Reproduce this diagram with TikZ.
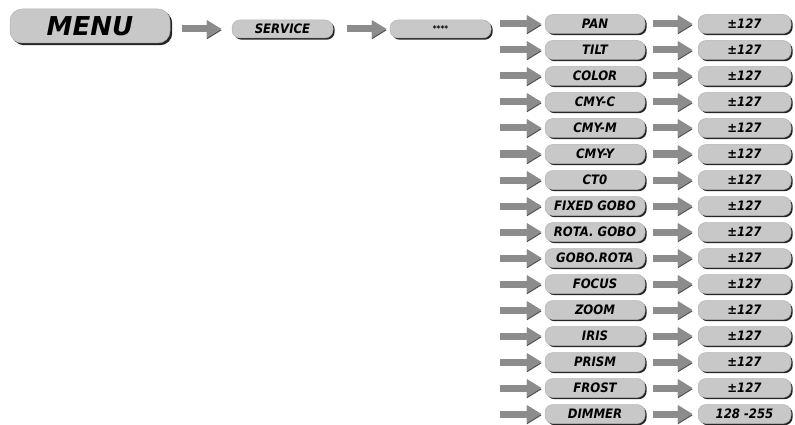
\documentclass[tikz,border=0pt]{standalone}
\usepackage{fontspec}
\setmainfont{DejaVu Sans}
\newfontfamily\condfont{DejaVu Sans Condensed}
\usetikzlibrary{arrows.meta,shadows}
\definecolor{boxgray}{HTML}{C8C8C8}
\definecolor{boxedge}{HTML}{B4B4B4}
\definecolor{arrgray}{HTML}{8C8C8C}
\definecolor{arrdark}{HTML}{505050}
\definecolor{shadowc}{HTML}{262626}
\tikzset{
  box/.style={rounded corners=8pt, fill=boxgray, draw=boxedge, line width=0.5pt,
    inner sep=0pt, minimum height=18pt,
    font=\condfont\bfseries\itshape\fontsize{13}{13}\selectfont,
    drop shadow={shadow xshift=1.7pt, shadow yshift=-1.7pt, fill=shadowc, opacity=1}},
  colbox/.style={box, minimum width=100pt, minimum height=19pt},
  valbox/.style={box, minimum width=93pt, minimum height=19pt},
  menubox/.style={box, rounded corners=12pt, minimum width=160pt, minimum height=34pt,
    font=\bfseries\itshape\fontsize{26}{26}\selectfont,
    drop shadow={shadow xshift=2.2pt, shadow yshift=-2.2pt, fill=shadowc, opacity=1}},
  conn/.style={line width=7pt, draw=arrgray,
    -{Triangle[length=15pt,width=17pt]},
    preaction={draw=arrdark, transform canvas={yshift=-1.3pt}}},
}
\begin{document}
\begin{tikzpicture}[x=1pt,y=-1pt]
\useasboundingbox (0,0) rectangle (795,425);
\node[menubox] (menu) at (90,26) {MENU};
\node[box, minimum width=101pt] (service) at (282.5,29) {SERVICE};
\node[box, minimum width=101pt, font=\condfont\bfseries\fontsize{8}{8}\selectfont] (stars) at (440.5,29) {****};
\draw[conn, shorten <=12pt, shorten >=10pt] (menu.east |- service) -- (service);
\draw[conn, shorten <=14pt, shorten >=3pt] (service) -- (stars);
\foreach [count=\i from 0] \n/\lab/\val in {
  pan/PAN/{±127}, tilt/TILT/{±127}, color/COLOR/{±127}, cmyc/CMY-C/{±127},
  cmym/CMY-M/{±127}, cmyy/CMY-Y/{±127}, cto/CT0/{±127}, fgobo/FIXED GOBO/{±127},
  rgobo/ROTA. GOBO/{±127}, gobor/GOBO.ROTA/{±127}, focus/FOCUS/{±127},
  zoom/ZOOM/{±127}, iris/IRIS/{±127}, prism/PRISM/{±127}, frost/FROST/{±127},
  dimmer/DIMMER/{128 -255}}{
  \node[colbox] (\n) at (595,{24+26*\i}) {\lab};
  \node[valbox] (\n v) at (744.5,{24+26*\i}) {\val};
  \draw[conn, shorten <=9pt, shorten >=3pt] (stars.east |- \n) -- (\n);
  \draw[conn, shorten <=8pt, shorten >=5pt] (\n) -- (\n v);
}
\end{tikzpicture}
\end{document}
